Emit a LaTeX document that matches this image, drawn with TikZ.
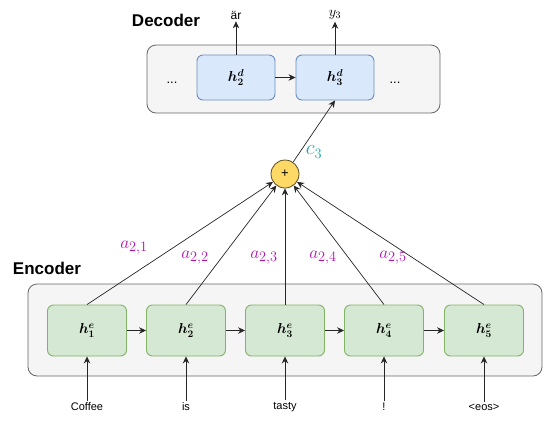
\documentclass[tikz,border=0pt]{standalone}
\usepackage[no-math]{fontspec}
\setmainfont{Liberation Sans}
\usetikzlibrary{arrows.meta}
\definecolor{outerdraw}{HTML}{666666}
\definecolor{outerfill}{HTML}{F5F5F5}
\definecolor{decdraw}{HTML}{6C8EBF}
\definecolor{decfill}{HTML}{DAE8FC}
\definecolor{encdraw}{HTML}{82B366}
\definecolor{encfill}{HTML}{D5E8D4}
\definecolor{sumfill}{HTML}{FFD966}
\definecolor{sumdraw}{HTML}{5A4A20}
\definecolor{wcol}{HTML}{B010B0}
\definecolor{ccol}{HTML}{1FA5A5}
\definecolor{linecol}{HTML}{262626}
\begin{document}
\begin{tikzpicture}[x=1pt,y=-1pt,
  outer/.style={draw=outerdraw, fill=outerfill, rounded corners=9pt, line width=0.8pt, inner sep=0pt},
  dec/.style={draw=decdraw, fill=decfill, rounded corners=6pt, minimum width=78pt, minimum height=45pt, line width=0.9pt, font=\boldmath\fontsize{14}{16}\selectfont},
  enc/.style={draw=encdraw, fill=encfill, rounded corners=6pt, minimum width=79pt, minimum height=51pt, line width=0.9pt, font=\boldmath\fontsize{14}{16}\selectfont},
  arr/.style={-{Stealth[length=7pt,width=6.5pt]}, line width=0.7pt, draw=linecol},
  wlab/.style={text=wcol, font=\fontsize{19}{21}\selectfont},
  word/.style={font=\fontsize{11}{13}\selectfont, inner sep=2pt},
  title/.style={font=\bfseries\fontsize{17}{19}\selectfont},
  sumnode/.style={circle, draw=sumdraw, fill=sumfill, minimum size=28pt, inner sep=0pt, line width=0.8pt, font=\fontsize{13}{15}\selectfont}
]
\useasboundingbox (0,0) rectangle (544,432);

% Decoder
\node[outer, minimum width=293pt, minimum height=68pt] (decbox) at (293.5,79) {};
\node[title] (dectitle) at (166,20) {Decoder};
\node[dec] (d2) at (236,77.5) {$h^d_2$};
\node[dec] (d3) at (335,77.5) {$h^d_3$};
\node[font=\fontsize{13}{15}\selectfont] (ldots) at (172,83) {...};
\node[font=\fontsize{13}{15}\selectfont] (rdots) at (395,83) {...};
\node[font=\fontsize{12}{14}\selectfont, inner sep=2pt] (o2) at (236,15) {är};
\node[font=\fontsize{14}{16}\selectfont, inner sep=2pt] (o3) at (335,15) {$y_3$};
\draw[arr] (d2.north) -- (o2.south);
\draw[arr] (d3.north) -- (o3.south);
\draw[arr] (d2.east) -- (d3.west);

% Encoder
\node[outer, minimum width=514pt, minimum height=92pt] (encbox) at (285,330) {};
\node[title] (enctitle) at (47,268) {Encoder};
\foreach \i/\x in {1/87,2/186,3/285,4/384,5/484}{
  \node[enc] (e\i) at (\x,330.5) {$h^e_{\i}$};
}
\foreach \i/\j in {1/2,2/3,3/4,4/5}{
  \draw[arr] (e\i.east) -- (e\j.west);
}
\foreach \i/\x/\w in {1/87/Coffee,2/186/is,3/285/tasty,4/384/!,5/484/<eos>}{
  \node[word] (w\i) at (\x,407) {\w};
  \draw[arr] (w\i.north) -- (e\i.south);
}

% Sum
\node[sumnode] (plus) at (285,174) {+};
\foreach \i in {1,...,5}{
  \draw[arr] (e\i.north) -- (plus);
}
\draw[arr] (plus) -- (d3.south);
\node[text=ccol, font=\fontsize{20}{22}\selectfont] (c3) at (314,152) {$c_3$};

% weights
\node[wlab] (a1) at (134,248) {$a_{2,1}$};
\node[wlab] (a2) at (195,258) {$a_{2,2}$};
\node[wlab] (a3) at (264,258) {$a_{2,3}$};
\node[wlab] (a4) at (323,258) {$a_{2,4}$};
\node[wlab] (a5) at (393,258) {$a_{2,5}$};
\end{tikzpicture}
\end{document}
